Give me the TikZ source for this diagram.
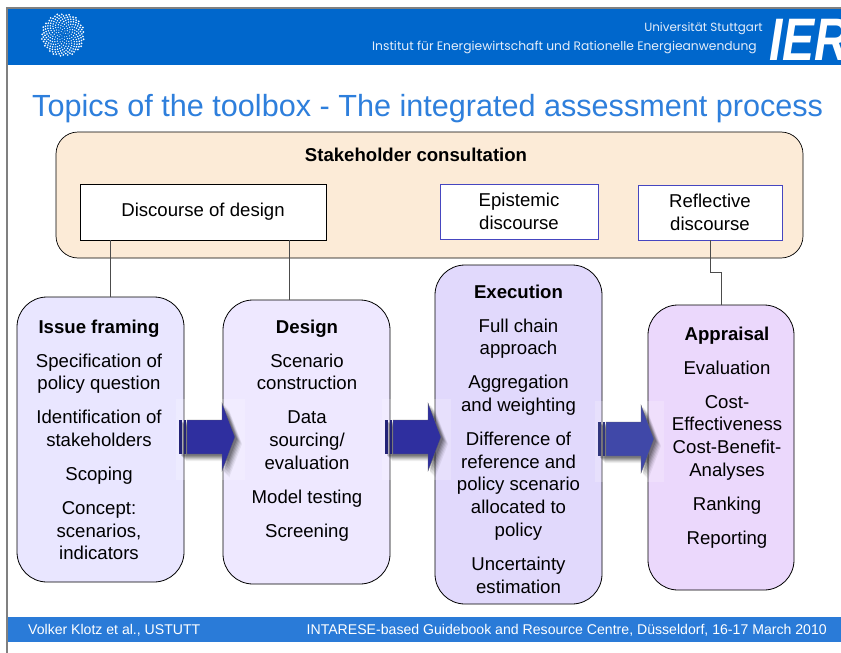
\documentclass[tikz,border=0pt]{standalone}
\usepackage{fontspec}
\setmainfont{Liberation Sans}
\newfontfamily\headfont{Poppins}
\definecolor{hdrblue}{HTML}{0067CC}
\definecolor{footblue}{HTML}{2A7BD8}
\definecolor{titleblue}{HTML}{2E7FDC}
\definecolor{frameg}{HTML}{808080}
\definecolor{stakefill}{HTML}{FCEBD7}
\definecolor{discblue}{HTML}{4646C0}
\definecolor{headtxt}{HTML}{E4EDFA}
\definecolor{arrowdark}{HTML}{2F2F9F}
\definecolor{arrowlight}{HTML}{4048A8}
\definecolor{issuefill}{HTML}{E9E6FF}
\definecolor{designfill}{HTML}{EEE8FF}
\definecolor{execfill}{HTML}{E1D9FC}
\definecolor{apprfill}{HTML}{EBD8FC}
\tikzset{
  x=1pt,y=-1pt,
  stake/.style={draw=black,fill=stakefill,rounded corners=22pt,line width=.7pt},
  discbox/.style={draw=discblue,fill=white,line width=.7pt,align=center,font=\fontsize{18.6}{23}\selectfont,inner sep=0pt},
  stepbox/.style={draw=black,rounded corners=30pt,line width=.8pt},
  steptext/.style={align=center,anchor=north,inner sep=0pt,font=\fontsize{18.6}{22.7}\selectfont,text=black},
  link/.style={draw=black!70,line width=.8pt},
  band/.style={fill=white,fill opacity=.2,draw=none},
}
\newcommand{\flowarrow}[3]{% x0, y centre, colour
  \begin{scope}[shift={(#1,#2)}]
    \fill[band] (-3,-38) rectangle (66,43);
    \foreach \o/\a in {7/.06,6/.08,5/.1,4/.12,3/.14,2/.16}{
      \fill[black,fill opacity=\a] (\o,{-17+\o}) -- (43+\o,{-17+\o}) -- (43+\o,{-34+\o}) -- (56+\o,\o) -- (43+\o,{34+\o}) -- (43+\o,{17+\o}) -- (\o,{17+\o}) -- cycle;
    }
    \fill[#3,draw=black!60,line width=.3pt] (8,-17) -- (43,-17) -- (43,-34) -- (56,0) -- (43,34) -- (43,17) -- (8,17) -- cycle;
    \fill[#3!75!black] (0,-17) rectangle (3,17);
    \fill[#3!75!black] (4.5,-17) rectangle (7,17);
  \end{scope}
}
\begin{document}
\begin{tikzpicture}
\useasboundingbox (0,0) rectangle (841,653);
\fill[white] (0,0) rectangle (841,653);
% slide frame and bands
\fill[frameg] (6,7) rectangle (841,9);
\fill[frameg] (6,7) rectangle (8,653);
\fill[hdrblue] (8,9) rectangle (841,65);
\fill[footblue] (8,617) rectangle (841,642);
% logo
\foreach \n in {1,...,230}{
  \pgfmathsetmacro{\rr}{21.5*sqrt(\n/230)}
  \pgfmathsetmacro{\aa}{10*mod(\n*13.7508,36)}
  \fill[white] ({63+\rr*cos(\aa)},{35+\rr*sin(\aa)}) circle ({.45+.55*sqrt(\n/230)});
}
% header text
\node[anchor=base east,inner sep=0pt,text=headtxt,font=\headfont\fontsize{11.9}{13}\selectfont] (uni) at (763,31) {Universität Stuttgart};
\node[anchor=base east,inner sep=0pt,text=headtxt,font=\headfont\fontsize{12.3}{14}\selectfont] (inst) at (757,50) {Institut für Energiewirtschaft und Rationelle Energieanwendung};
\begin{scope}
  \clip (760,9) rectangle (841,65);
  \node[anchor=base west,inner sep=0pt,text=white,font=\bfseries\itshape\fontsize{60}{60}\selectfont] (ier) at (769,60) {\scalebox{.8}[1]{IER}};
\end{scope}
% title
\node[anchor=base west,inner sep=0pt,text=titleblue,font=\fontsize{30.6}{34}\selectfont] (title) at (32,116) {Topics of the toolbox - The integrated assessment process};
% stakeholder panel
\node[stake,minimum width=747pt,minimum height=126pt,anchor=center,inner sep=0pt] (stake) at (429.5,195) {};
\node[inner sep=0pt,font=\bfseries\fontsize{18.6}{20}\selectfont] (staket) at (416,155) {Stakeholder consultation};
\node[discbox,draw=black,minimum width=246pt,minimum height=56pt] (disc) at (203,212) {Discourse of design};
\node[discbox,minimum width=158pt,minimum height=55pt] (epi) at (519,211.5) {Epistemic\\discourse};
\node[discbox,minimum width=144pt,minimum height=55pt] (refl) at (710,212.5) {Reflective\\discourse};
% process boxes
\node[stepbox,fill=issuefill,minimum width=167pt,minimum height=285pt,inner sep=0pt] (issue) at (100.5,439.5) {};
\node[stepbox,fill=designfill,minimum width=167pt,minimum height=284pt,inner sep=0pt] (design) at (306.5,442) {};
\node[stepbox,fill=execfill,minimum width=167pt,minimum height=339pt,inner sep=0pt] (exec) at (518.5,434.5) {};
\node[stepbox,fill=apprfill,minimum width=146pt,minimum height=285pt,inner sep=0pt] (appr) at (721,447.5) {};
% connectors
\draw[link] ([xshift=-93pt]disc.south) -- ([xshift=9.5pt]issue.north);
\draw[link] ([xshift=86pt]disc.south) -- ([xshift=-17.5pt]design.north);
\draw[link] (refl.south) -- ++(0,32) -| (appr.north);
% box texts
\node[steptext] (issuet) at (99,319.5) {\textbf{Issue framing}\\[11.3pt]Specification of\\policy question\\[11.3pt]Identification of\\stakeholders\\[11.3pt]Scoping\\[11.3pt]Concept:\\scenarios,\\indicators};
\node[steptext] (designt) at (307,319.5) {\textbf{Design}\\[11.3pt]Scenario\\construction\\[11.3pt]Data\\sourcing/\\evaluation\\[11.3pt]Model testing\\[11.3pt]Screening};
\node[steptext] (exect) at (518.5,284.5) {\textbf{Execution}\\[11.3pt]Full chain\\approach\\[11.3pt]Aggregation\\and weighting\\[11.3pt]Difference of\\reference and\\policy scenario\\allocated to\\policy\\[11.3pt]Uncertainty\\estimation};
\node[steptext] (apprt) at (727,326.5) {\textbf{Appraisal}\\[11.3pt]Evaluation\\[11.3pt]Cost-\\Effectiveness\\Cost-Benefit-\\Analyses\\[11.3pt]Ranking\\[11.3pt]Reporting};
% flow arrows
\flowarrow{179}{437}{arrowdark}
\flowarrow{385}{437}{arrowdark}
\flowarrow{598}{439}{arrowlight}
% footer
\node[anchor=base west,inner sep=0pt,text=white,font=\fontsize{14.07}{15}\selectfont] (foota) at (28,634) {Volker Klotz et al., USTUTT};
\node[anchor=base east,inner sep=0pt,text=white,font=\fontsize{14.1}{15}\selectfont] (footb) at (827,634) {INTARESE-based Guidebook and Resource Centre, Düsseldorf, 16-17 March 2010};
\end{tikzpicture}
\end{document}
